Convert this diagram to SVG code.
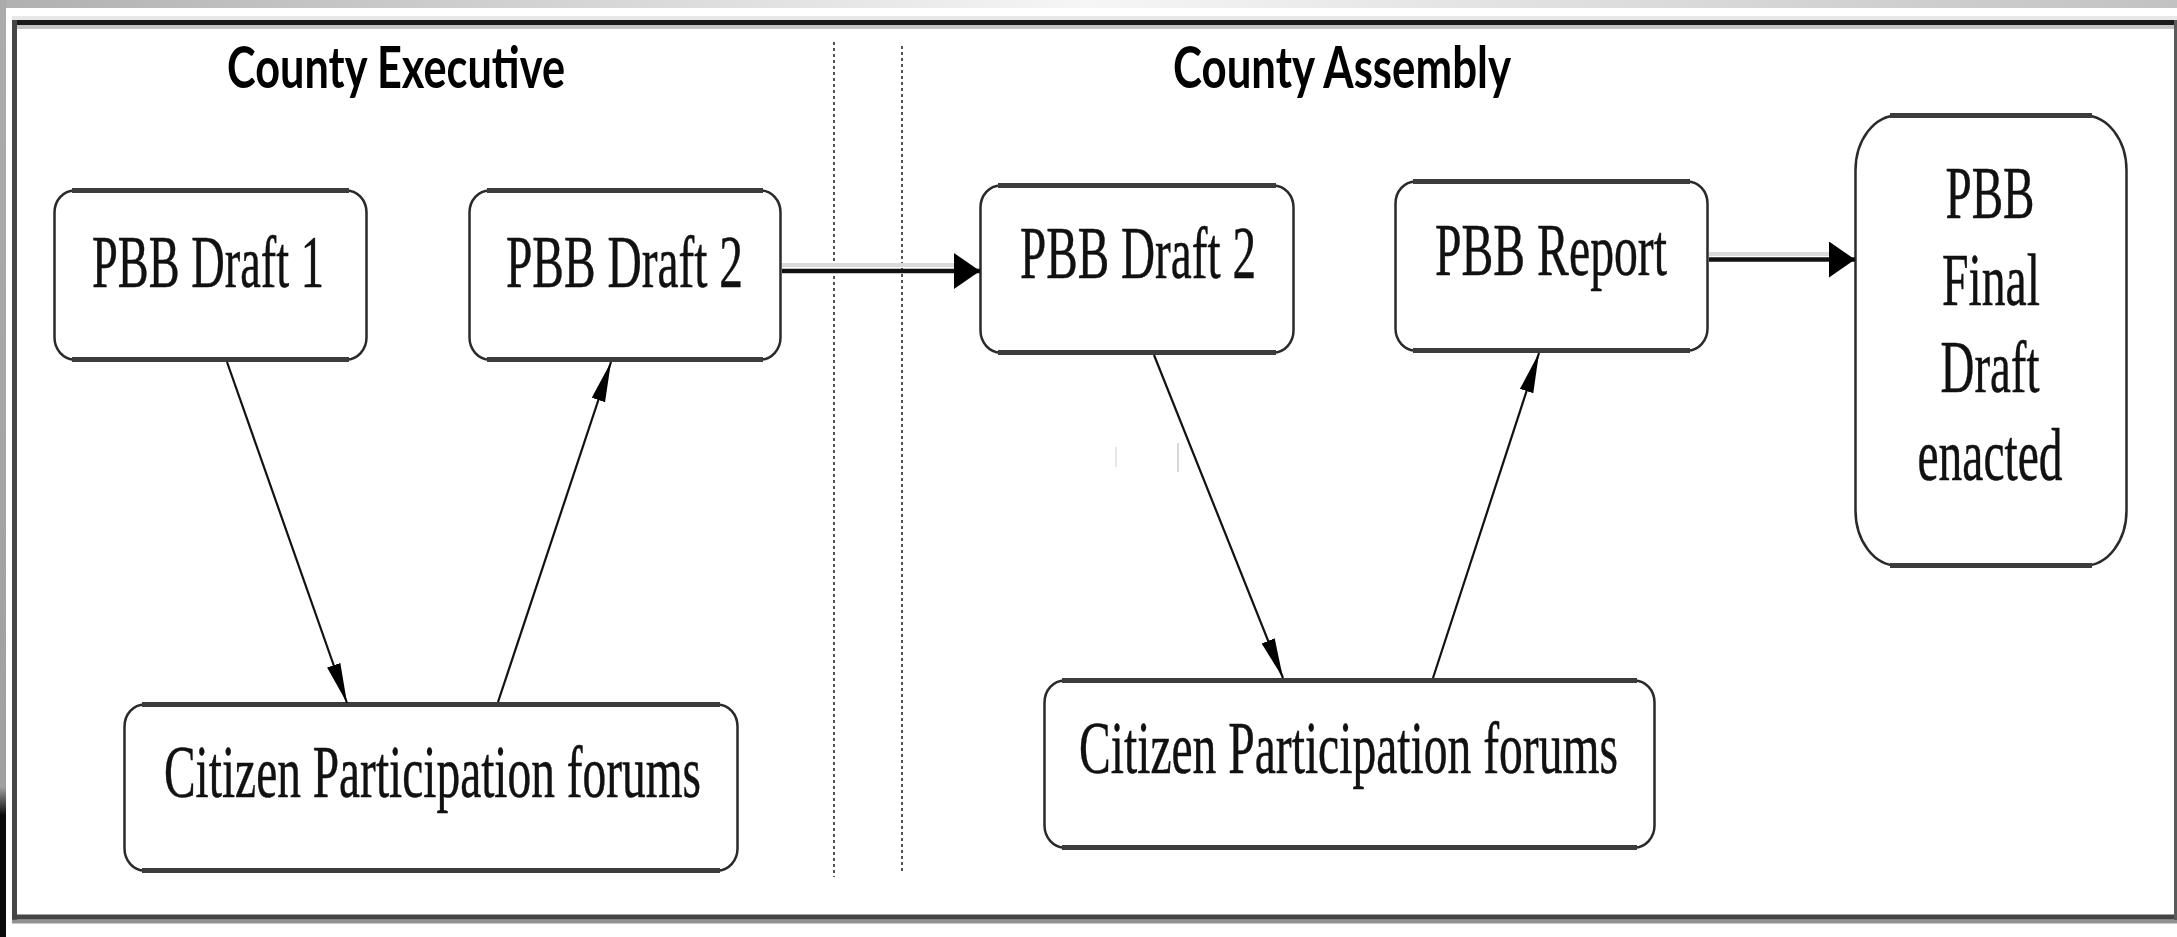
<svg xmlns="http://www.w3.org/2000/svg" width="2177" height="937" viewBox="0 0 2177 937">
  <defs>
    <linearGradient id="topband" x1="0" y1="0" x2="1" y2="0">
      <stop offset="0" stop-color="#b0b0b0"/>
      <stop offset="0.5" stop-color="#f6f6f6"/>
      <stop offset="1" stop-color="#c2c2c2"/>
    </linearGradient>
    <linearGradient id="leftfade" x1="0" y1="0" x2="0" y2="1">
      <stop offset="0" stop-color="#ababab"/>
      <stop offset="0.84" stop-color="#a0a0a0"/>
      <stop offset="0.87" stop-color="#0a0a0a"/>
      <stop offset="1" stop-color="#0a0a0a"/>
    </linearGradient>
    <marker id="arrH" markerUnits="userSpaceOnUse" markerWidth="28" markerHeight="38" refX="26" refY="18" orient="auto">
      <path d="M0,0 L26,18 L0,36 z" fill="#000"/>
    </marker>
    <marker id="arrD" markerUnits="userSpaceOnUse" markerWidth="42" markerHeight="16" refX="40" refY="7" orient="auto">
      <path d="M0,0 L40,7 L0,14 z" fill="#000"/>
    </marker>
    <style>
      .box { fill: #ffffff; stroke: #2a2a2a; stroke-width: 2.5; }
      .edge { stroke: #3c3c3c; stroke-width: 5; fill: none; }
      .lbl { font-family: "Liberation Serif", "Times New Roman", serif; font-size: 74px; fill: #111; stroke: #111; stroke-width: 0.5; }
      .title { font-family: Lato, "Liberation Sans", sans-serif; font-weight: bold; font-size: 58px; fill: #000; }
      .conn { stroke: #111; stroke-width: 2.2; fill: none; }
      .hconn { stroke: #111; stroke-width: 4.5; fill: none; }
      .hshadow { stroke: #dadada; stroke-width: 4; fill: none; }
      .divider { stroke: #555; stroke-width: 2; stroke-dasharray: 3 3; fill: none; }
    </style>
  </defs>

  <!-- background outside frame -->
  <rect x="0" y="0" width="2177" height="937" fill="#ffffff"/>
  <rect x="0" y="0" width="2177" height="8" fill="url(#topband)"/>
  <rect x="0" y="0" width="6" height="937" fill="url(#leftfade)"/>

  <!-- outer frame -->
  <g id="frame">
    <rect x="14" y="22" width="2161" height="895" fill="#ffffff"/>
    <line x1="12" y1="18" x2="2177" y2="18" stroke="#e8e8e8" stroke-width="4"/>
    <line x1="17" y1="27" x2="2177" y2="27" stroke="#c4c4c4" stroke-width="4"/>
    <line x1="12" y1="22.5" x2="2177" y2="22.5" stroke="#1a1a1a" stroke-width="5"/>
    <line x1="14.5" y1="20" x2="14.5" y2="920" stroke="#464646" stroke-width="5"/>
    <line x1="12" y1="921.5" x2="2177" y2="921.5" stroke="#929292" stroke-width="4"/>
    <line x1="12" y1="917" x2="2177" y2="917" stroke="#444444" stroke-width="5"/>
    <line x1="2175.5" y1="20" x2="2175.5" y2="920" stroke="#5a5a5a" stroke-width="3"/>
  </g>

  <!-- section titles and dividers -->
  <g id="titles">
    <text class="title" x="227" y="88" textLength="338" lengthAdjust="spacingAndGlyphs">County Executive</text>
    <text class="title" x="1173" y="88" textLength="338" lengthAdjust="spacingAndGlyphs">County Assembly</text>
  </g>
  <g id="dividers">
    <line class="divider" x1="834" y1="42" x2="834" y2="877"/>
    <line class="divider" x1="902" y1="46" x2="902" y2="873"/>
    <line x1="1116" y1="447" x2="1116" y2="467" stroke="#e6e6e6" stroke-width="2"/>
    <line x1="1178" y1="443" x2="1178" y2="472" stroke="#d8d8d8" stroke-width="2"/>
  </g>

  <!-- nodes -->
  <g id="exec-draft1">
    <rect class="box" x="54.5" y="190.5" width="312" height="169" rx="20" ry="22"/>
    <path class="edge" d="M72,190.5 H349 M72,359.5 H349"/>
    <text class="lbl" x="92" y="287" textLength="232" lengthAdjust="spacingAndGlyphs">PBB Draft 1</text>
  </g>
  <g id="exec-draft2">
    <rect class="box" x="469.5" y="190.5" width="311" height="169" rx="20" ry="22"/>
    <path class="edge" d="M487,190.5 H763 M487,359.5 H763"/>
    <text class="lbl" x="506" y="287" textLength="237" lengthAdjust="spacingAndGlyphs">PBB Draft 2</text>
  </g>
  <g id="asm-draft2">
    <rect class="box" x="980.5" y="185.5" width="313" height="167" rx="20" ry="22"/>
    <path class="edge" d="M998,185.5 H1276 M998,352.5 H1276"/>
    <text class="lbl" x="1020" y="278" textLength="236" lengthAdjust="spacingAndGlyphs">PBB Draft 2</text>
  </g>
  <g id="asm-report">
    <rect class="box" x="1395.5" y="181.5" width="312" height="169" rx="20" ry="22"/>
    <path class="edge" d="M1413,181.5 H1690 M1413,350.5 H1690"/>
    <text class="lbl" x="1435" y="275" textLength="232" lengthAdjust="spacingAndGlyphs">PBB Report</text>
  </g>
  <g id="final-draft">
    <rect class="box" x="1855.5" y="115.5" width="271" height="450" rx="42" ry="55"/>
    <path class="edge" d="M1890,115.5 H2092 M1890,565.5 H2092"/>
    <text class="lbl" x="1990" y="218" text-anchor="middle" textLength="89" lengthAdjust="spacingAndGlyphs">PBB</text>
    <text class="lbl" x="1991" y="305" text-anchor="middle" textLength="98" lengthAdjust="spacingAndGlyphs">Final</text>
    <text class="lbl" x="1990" y="392" text-anchor="middle" textLength="99" lengthAdjust="spacingAndGlyphs">Draft</text>
    <text class="lbl" x="1990" y="480" text-anchor="middle" textLength="145" lengthAdjust="spacingAndGlyphs">enacted</text>
  </g>
  <g id="exec-forums">
    <rect class="box" x="124.5" y="704.5" width="613" height="166" rx="20" ry="22"/>
    <path class="edge" d="M142,704.5 H720 M142,870.5 H720"/>
    <text class="lbl" x="164" y="797" textLength="537" lengthAdjust="spacingAndGlyphs">Citizen Participation forums</text>
  </g>
  <g id="asm-forums">
    <rect class="box" x="1044.5" y="680.5" width="610" height="167" rx="20" ry="22"/>
    <path class="edge" d="M1062,680.5 H1637 M1062,847.5 H1637"/>
    <text class="lbl" x="1079" y="773" textLength="539" lengthAdjust="spacingAndGlyphs">Citizen Participation forums</text>
  </g>

  <!-- connectors -->
  <g id="connectors">
    <line class="conn" x1="227" y1="362" x2="347" y2="703" marker-end="url(#arrD)"/>
    <line class="conn" x1="498" y1="702" x2="611" y2="362" marker-end="url(#arrD)"/>
    <line class="conn" x1="1154" y1="355" x2="1283" y2="678" marker-end="url(#arrD)"/>
    <line class="conn" x1="1433" y1="678" x2="1539" y2="353" marker-end="url(#arrD)"/>
    <line class="hshadow" x1="782" y1="265" x2="955" y2="265"/>
    <line class="hconn" x1="782" y1="271" x2="980" y2="271" marker-end="url(#arrH)"/>
    <line class="hshadow" x1="1709" y1="254" x2="1830" y2="254"/>
    <line class="hconn" x1="1709" y1="259.5" x2="1855" y2="259.5" marker-end="url(#arrH)"/>
  </g>
</svg>
